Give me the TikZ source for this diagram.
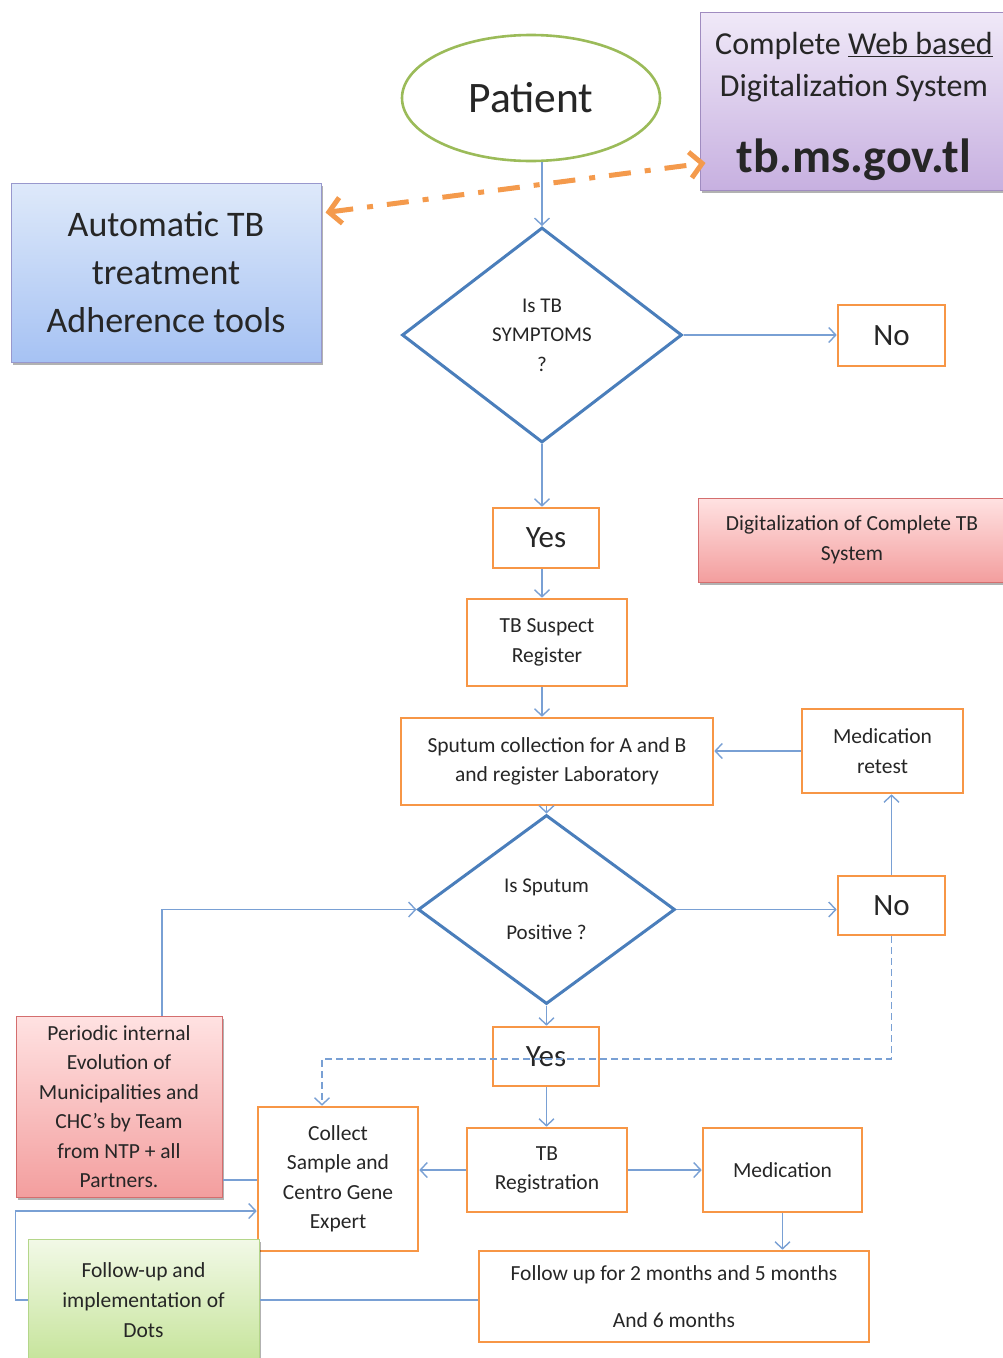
\documentclass[tikz,border=0pt]{standalone}
\usepackage{fontspec}
\setmainfont{Carlito}
\usetikzlibrary{shapes.geometric,arrows.meta,shadows}

\definecolor{boxorange}{HTML}{F79646}
\definecolor{dashorange}{HTML}{F49A4C}
\definecolor{lineblue}{HTML}{79A0D4}
\definecolor{dblue}{HTML}{4A7EBB}
\definecolor{pgreen}{HTML}{9BBB59}
\definecolor{txt}{HTML}{262626}

\tikzset{
  box/.style={draw=boxorange, line width=2.6pt, align=center, inner sep=0pt,
    text=txt, font=\fontsize{21.5}{29.5}\selectfont},
  bigtxt/.style={font=\fontsize{31}{36}\selectfont},
  decision/.style={diamond, draw=dblue, line width=3pt, inner sep=0pt,
    align=center, text=txt, font=\fontsize{21}{29.5}\selectfont},
  panel/.style={line width=1pt, align=center, inner sep=0pt, text=txt,
    drop shadow={shadow xshift=2pt, shadow yshift=-3pt, fill=black, opacity=0.3}},
  conn/.style={draw=lineblue, line width=1.4pt},
  arr/.style={conn, -{Straight Barb[length=7pt,width=15pt,line width=1.4pt]}},
}

\begin{document}
\begin{tikzpicture}[x=1pt,y=-1pt]
\useasboundingbox (0,0) rectangle (1003,1358);

% ---- side panels ----
\node[panel, draw=blue!35!gray!60, top color={rgb,255:red,222;green,233;blue,250},
  bottom color={rgb,255:red,166;green,194;blue,243},
  minimum width=310pt, minimum height=179pt, font=\fontsize{36}{48}\selectfont]
  (adh) at (166,272.5) {Automatic TB\\treatment\\Adherence tools};

\node[panel, draw={rgb,255:red,160;green,140;blue,192},
  top color={rgb,255:red,240;green,233;blue,248},
  bottom color={rgb,255:red,199;green,176;blue,224},
  minimum width=308pt, minimum height=178pt, font=\fontsize{32}{42}\selectfont]
  (web) at (854,101) {\rule{0pt}{33pt}Complete \underline{Web based}\\Digitalization System\\[34pt]%
  {\fontsize{48}{50}\selectfont\bfseries tb.ms.gov.tl}};

\node[panel, draw={rgb,255:red,212;green,110;blue,110},
  top color={rgb,255:red,255;green,226;blue,226},
  bottom color={rgb,255:red,243;green,158;blue,158},
  minimum width=308pt, minimum height=84pt, font=\fontsize{21.5}{29.5}\selectfont]
  (digi) at (852,540) {Digitalization of Complete TB\\System};

\node[panel, draw={rgb,255:red,212;green,110;blue,110},
  top color={rgb,255:red,255;green,226;blue,226},
  bottom color={rgb,255:red,243;green,158;blue,158},
  minimum width=206pt, minimum height=181pt, font=\fontsize{21.5}{29.5}\selectfont]
  (per) at (119,1106.5) {Periodic internal\\Evolution of\\Municipalities and\\CHC's by Team\\from NTP + all\\Partners.};

% ---- main flow ----
\node[ellipse, draw=pgreen, line width=2.6pt, minimum width=258pt, minimum height=126pt,
  text=txt, font=\fontsize{43.5}{46}\selectfont] (patient) at (531,98) {Patient};

\node[decision, minimum width=280pt, minimum height=215pt] (d1) at (542,335)
  {Is TB\\SYMPTOMS\\?};
\node[box, bigtxt, minimum width=107pt, minimum height=61pt] (no1) at (891.5,335.5) {No};
\node[box, bigtxt, minimum width=106pt, minimum height=60pt] (yes1) at (546,538) {Yes};
\node[box, minimum width=160pt, minimum height=87pt] (susp) at (547,642.5) {TB Suspect\\Register};
\node[box, minimum width=312pt, minimum height=87pt] (sput) at (557,761.5)
  {Sputum collection for A and B\\and register Laboratory};
\node[box, minimum width=161pt, minimum height=84pt] (retest) at (882.5,751) {Medication\\retest};
\node[decision, minimum width=257pt, minimum height=189pt] (d2) at (546.5,909.5)
  {Is Sputum\\[18pt]Positive ?};
\node[box, bigtxt, minimum width=107pt, minimum height=59pt] (no2) at (891.5,905.5) {No};
\node[box, bigtxt, minimum width=106pt, minimum height=59pt] (yes2) at (546,1056.5) {Yes};
\node[box, minimum width=160pt, minimum height=84pt] (reg) at (547,1170) {TB\\Registration};
\node[box, minimum width=160pt, minimum height=144pt] (collect) at (338,1179)
  {Collect\\Sample and\\Centro Gene\\Expert};
\node[box, minimum width=159pt, minimum height=84pt] (med) at (782.5,1170) {Medication};
\node[box, minimum width=390pt, minimum height=91pt] (fu) at (674,1296.5)
  {Follow up for 2 months and 5 months\\[18pt]And 6 months};

\node[panel, draw={rgb,255:red,180;green,214;blue,138},
  top color={rgb,255:red,242;green,249;blue,231},
  bottom color={rgb,255:red,198;green,228;blue,155},
  minimum width=231pt, minimum height=122pt, font=\fontsize{21.5}{30}\selectfont]
  (dots) at (143.5,1300) {Follow-up and\\implementation of\\Dots};

% ---- connectors ----
\coordinate (dj) at (322,1059);
\draw[arr] (d1.north |- patient.south) -- (d1.north);
\draw[arr] (d1.east) -- (d1.east -| no1.west);
\draw[arr] (d1.south) -- (d1.south |- yes1.north);
\draw[arr] (yes1.south -| d1.south) -- (d1.south |- susp.north);
\draw[arr] (susp.south -| d1.south) -- (d1.south |- sput.north);
\draw[arr] (retest.west) -- (retest.west -| sput.east);
\draw[arr] (sput.south -| d2.north) -- (d2.north);
\draw[arr] (d2.east) -- (d2.east -| no2.west);
\draw[arr] (no2.north) -- (no2.north |- retest.south);
\draw[conn, dashed, dash pattern=on 7pt off 4pt, -{Straight Barb[length=7pt,width=15pt,line width=1.4pt]}]
  (no2.south) |- (dj) -- (dj |- collect.north);
\draw[arr] (d2.south) -- (d2.south |- yes2.north);
\draw[arr] (d2.south |- yes2.south) -- (d2.south |- reg.north);
\draw[arr] (reg.west) -- (reg.west -| collect.east);
\draw[arr] (reg.east) -- (reg.east -| med.west);
\draw[arr] (med.south) -- (med.south |- fu.north);
\draw[arr] ([xshift=43pt]per.north) |- (d2.west);
\draw[conn] ([yshift=-73.5pt]per.east) -- ([yshift=-73.5pt]per.east -| collect.west);
\draw[arr] (dots.west) -- ++(-12,0) |- ([yshift=-32pt]collect.west);
\draw[conn] (dots.east) -- (dots.east -| fu.west);

% ---- data exchange link ----
\draw[dashorange, line width=5pt, dash pattern=on 22pt off 14pt on 6pt off 14pt,
  {Straight Barb[length=12pt,width=26pt,line width=5pt]}-{Straight Barb[length=12pt,width=26pt,line width=5pt]}]
  ([yshift=60pt,xshift=4pt]adh.east) -- ([yshift=-62pt,xshift=6pt]web.west);
\end{tikzpicture}
\end{document}
